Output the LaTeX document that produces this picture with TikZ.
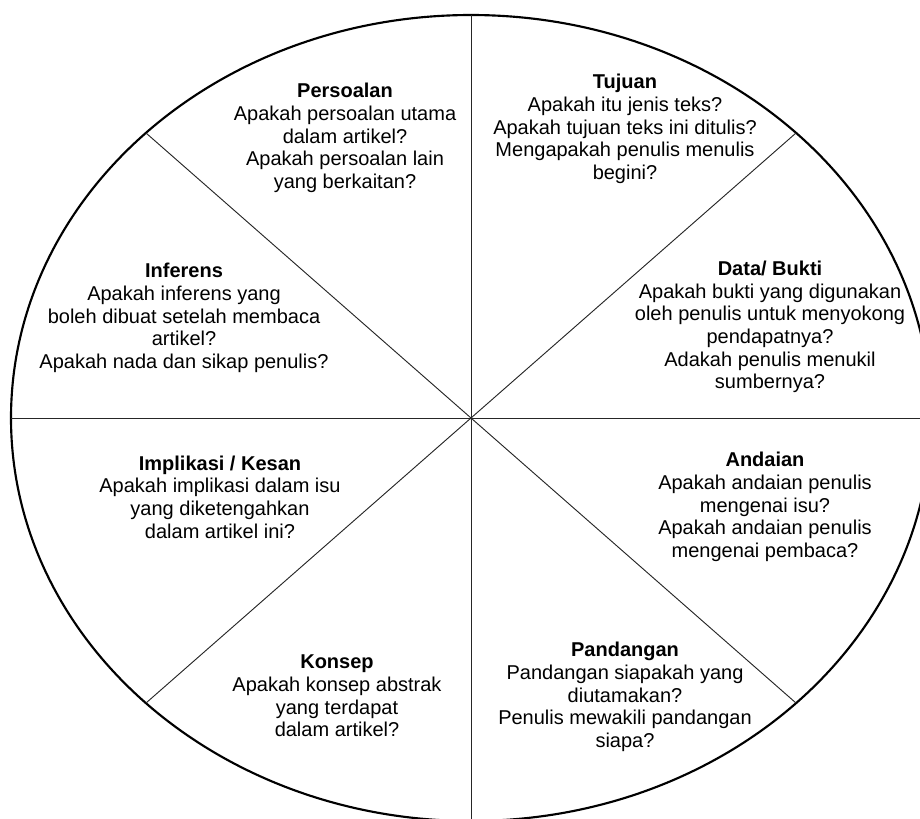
\documentclass[tikz,border=0pt]{standalone}
\usepackage{fontspec}
\setmainfont{Liberation Sans}
\usepackage{tikz}

\tikzset{
  sect/.style={inner sep=0.75pt, align=center, font=\fontsize{15}{17}\selectfont},
  rim/.style={line width=1.6pt},
  spoke/.style={line width=0.7pt, black!85}
}
\newcommand{\hd}[1]{\textbf{#1}}

\begin{document}
\begin{tikzpicture}[x=0.75pt,y=0.75pt,yscale=-1,xscale=1]
\useasboundingbox (0,0) rectangle (920,818);
\clip (0,0) rectangle (920,818);

% centre and rim points
\coordinate (o) at (471,418);
\coordinate (top) at (471,15);
\coordinate (bot) at (471,821);
\coordinate (lft) at (11,418);
\coordinate (rgt) at (931,418);
\coordinate (tl) at (146,133);
\coordinate (tr) at (796,133);
\coordinate (bl) at (146,703);
\coordinate (br) at (796,703);

%Ellipse
\draw [rim] (o) ellipse [x radius=460, y radius=403];
%Straight Lines
\draw [spoke] (top) -- (bot) ;
\draw [spoke] (lft) -- (rgt) ;
\draw [spoke] (tl) -- (br) ;
\draw [spoke] (bl) -- (tr) ;

% Text Node
\node [sect] (persoalan) at (345,138) {\hd{Persoalan}\\Apakah persoalan utama\\dalam artikel?\\Apakah persoalan lain\\yang berkaitan?};
% Text Node
\node [sect] (tujuan) at (625,129) {\hd{Tujuan}\\Apakah itu jenis teks?\\Apakah tujuan teks ini ditulis?\\Mengapakah penulis menulis\\begini?};
% Text Node
\node [sect] (inferens) at (184,318) {\hd{Inferens}\\Apakah inferens yang\\boleh dibuat setelah membaca\\artikel?\\Apakah nada dan sikap penulis?};
% Text Node
\node [sect] (data) at (770,327) {\hd{Data/ Bukti}\\Apakah bukti yang digunakan\\oleh penulis untuk menyokong\\pendapatnya?\\Adakah penulis menukil\\sumbernya?};
% Text Node
\node [sect] (implikasi) at (220,497) {\hd{Implikasi / Kesan}\\Apakah implikasi dalam isu\\yang diketengahkan\\dalam artikel ini?};
% Text Node
\node [sect] (andaian) at (765,507) {\hd{Andaian}\\Apakah andaian penulis\\mengenai isu?\\Apakah andaian penulis\\mengenai pembaca?};
% Text Node
\node [sect] (konsep) at (337,696) {\hd{Konsep}\\Apakah konsep abstrak\\yang terdapat\\dalam artikel?};
% Text Node
\node [sect] (pandangan) at (625,697) {\hd{Pandangan}\\Pandangan siapakah yang\\diutamakan?\\Penulis mewakili pandangan\\siapa?};

\end{tikzpicture}
\end{document}
